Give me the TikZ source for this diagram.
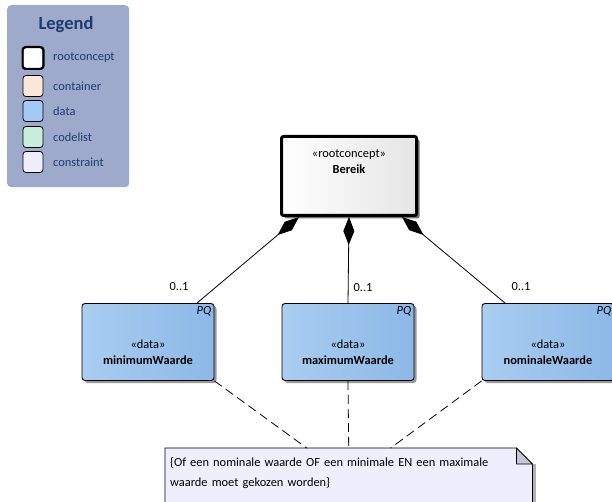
\documentclass[tikz,border=0pt]{standalone}
\usepackage{fontspec}
\setmainfont{Carlito}
\usetikzlibrary{arrows.meta,shadows,backgrounds}

\definecolor{legendbg}{HTML}{9DAACB}
\definecolor{legendtxt}{HTML}{1F3B6E}
\definecolor{containerfill}{HTML}{FCE8D8}
\definecolor{datafill}{HTML}{A3CBF5}
\definecolor{dataleft}{HTML}{AACDF1}
\definecolor{dataright}{HTML}{8CB8E7}
\definecolor{codelistfill}{HTML}{C8EEDC}
\definecolor{constraintfill}{HTML}{EEEEFD}
\definecolor{foldfill}{HTML}{C6C6DA}

\begin{document}
\begin{tikzpicture}[x=1pt,y=-1pt,
    every node/.style={font=\fontsize{12.4}{14}\selectfont},
    rootbox/.style={draw,line width=3pt,rounded corners=2pt,
      minimum width=135pt,minimum height=79pt,
      left color=white,right color=black!10,
      drop shadow={shadow xshift=3pt,shadow yshift=-3pt,fill=black!55,opacity=1}},
    databox/.style={draw,line width=.9pt,rounded corners=3pt,
      minimum width=132pt,minimum height=77pt,
      left color=dataleft,right color=dataright,
      drop shadow={shadow xshift=2.5pt,shadow yshift=-2.5pt,fill=black!40,opacity=1}},
    swatch/.style={draw,line width=.8pt,rounded corners=3pt,
      minimum width=20pt,minimum height=21pt,inner sep=0pt},
    compo/.style={{Diamond[length=28pt,width=11pt,fill=black]}-,line width=.8pt},
    anchorline/.style={dashed,dash pattern=on 9pt off 5pt,line width=.8pt},
    mult/.style={inner sep=1pt}]

  \useasboundingbox (0,0) rectangle (612,502);
  \clip (0,0) rectangle (612,502);

  % legend
  \node[fill=legendbg,rounded corners=4pt,minimum width=122pt,minimum height=182pt,
    anchor=north west] (legend) at (7,5) {};
  \node[font=\fontsize{18.5}{20}\selectfont\bfseries,text=legendtxt] (legendtitle)
    at (66,25) {Legend};
  \foreach \y/\c/\t [count=\i] in {58/white/rootconcept,86/containerfill/container,
      111/datafill/data,137/codelistfill/codelist,162/constraintfill/constraint}{
    \node[swatch,fill=\c] (sw\i) at (33,\y) {};
    \node[anchor=west,text=legendtxt,inner sep=0pt] (swl\i) at (53,\y) {\t};
  }
  \draw[line width=2.2pt,rounded corners=3pt] (sw1.north west) rectangle (sw1.south east);

  % classes
  \node[rootbox] (root) at (349,176) {};
  \node[align=center] (roottext) at (349,162) {«rootconcept»\\[2pt]\textbf{Bereik}};

  \foreach \n/\x/\t in {min/148/minimumWaarde,max/348/maximumWaarde,nom/548/nominaleWaarde}{
    \node[databox] (\n) at (\x,342) {};
    \node[anchor=north east,font=\fontsize{12.4}{14}\selectfont\itshape,inner sep=3pt]
      (\n pq) at (\n.north east) {PQ};
    \node[align=center] (\n text) at (\x,352) {«data»\\[2pt]\textbf{\t}};
  }

  % compositions
  \draw[compo] ([xshift=-50pt]root.south) -- ([xshift=49pt]min.north);
  \draw[compo] (root.south) -- (max.north);
  \draw[compo] ([xshift=53pt]root.south) -- ([xshift=-43pt]nom.north);
  \node[mult] (m1) at (179,287) {0..1};
  \node[mult] (m2) at (363,288) {0..1};
  \node[mult] (m3) at (521,287) {0..1};

  % constraint note
  \node[anchor=north west,text width=357pt,minimum height=50pt,inner xsep=5pt,
    align=left,font=\fontsize{12.4}{20}\selectfont] (note) at (165,448)
    {\{Of een nominale waarde OF een minimale EN een maximale\\
     waarde moet gekozen worden\}};
  \begin{scope}[on background layer]
    \fill[black!30] ([xshift=1pt,yshift=-16pt]note.north east)
      rectangle ([xshift=4pt,yshift=-30pt]note.south east);
    \draw[fill=constraintfill,line width=.8pt] ([yshift=-30pt]note.south west)
      -- (note.north west) -- ([xshift=-16pt]note.north east)
      -- ([yshift=-16pt]note.north east) -- ([yshift=-30pt]note.south east);
    \draw[fill=foldfill,line width=.8pt,line join=round] ([xshift=-16pt]note.north east)
      -- ([xshift=-16pt,yshift=-16pt]note.north east) -- ([yshift=-16pt]note.north east) -- cycle;
  \end{scope}

  \draw[anchorline] (min.south east) -- ([xshift=-42pt]note.north);
  \draw[anchorline] (max.south) -- (note.north);
  \draw[anchorline] (nom.south west) -- ([xshift=42pt]note.north);
\end{tikzpicture}
\end{document}
